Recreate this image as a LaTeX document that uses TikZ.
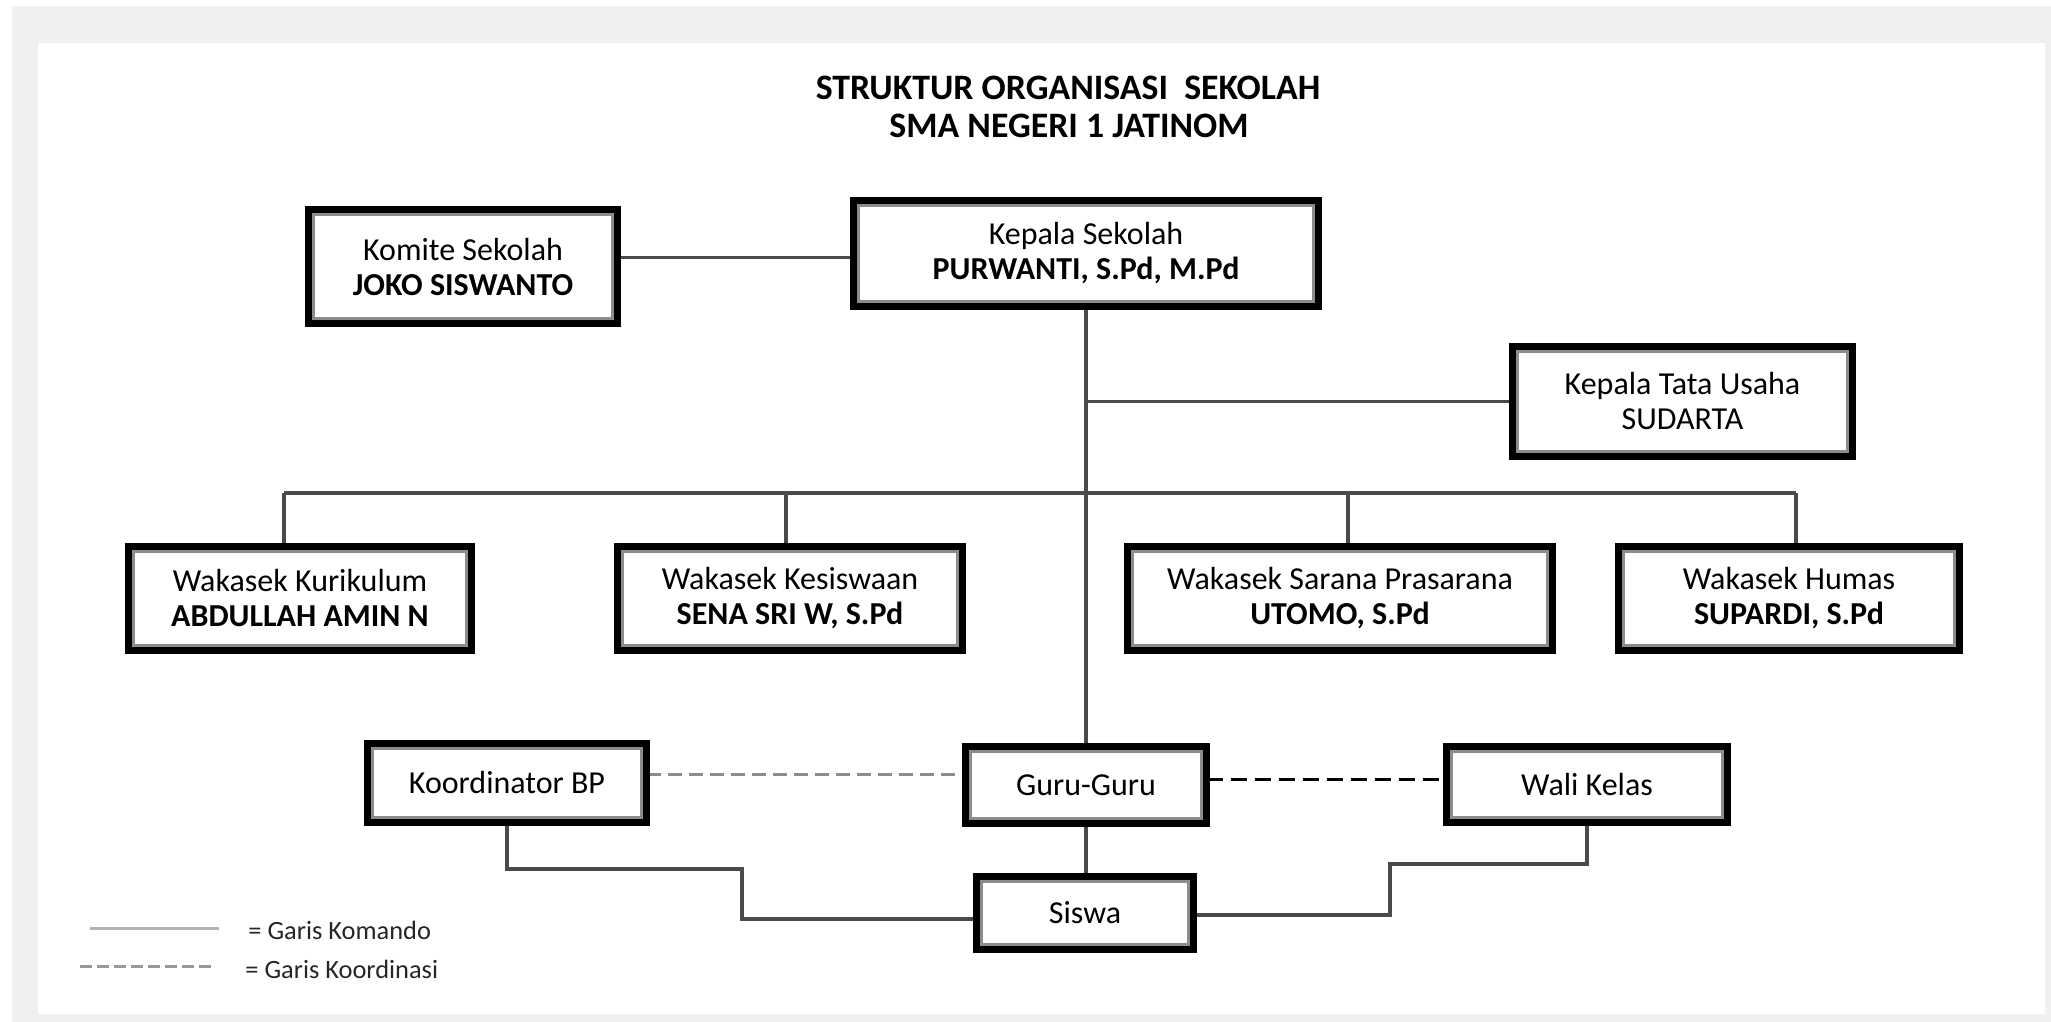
\documentclass[tikz,border=0pt]{standalone}
\usepackage{fontspec}
\setmainfont{Carlito}
\usetikzlibrary{backgrounds,calc}
\definecolor{bggray}{HTML}{F0F0F0}
\definecolor{linegray}{HTML}{4A4A4A}
\begin{document}
\begin{tikzpicture}[x=0.5pt,y=-0.5pt,
  obox/.style={draw=black, line width=3.5pt, fill=white, outer sep=0pt, inner sep=0pt, align=center, font=\fontsize{16}{17.5}\selectfont, text=black},
  innerline/.style={draw=black!45, line width=1.5pt},
  cmd/.style={draw=linegray, line width=1.6pt},
  coordgray/.style={draw=black!45, line width=1.5pt, dash pattern=on 7pt off 3.5pt},
  coordblack/.style={draw=black, line width=1.5pt, dash pattern=on 8pt off 4pt},
  legsolid/.style={draw=black!30, line width=1.5pt},
  legdash/.style={draw=black!40, line width=1.5pt, dash pattern=on 6pt off 2.5pt},
  ttl/.style={font=\fontsize{17.9}{20}\selectfont\bfseries, inner sep=0pt, anchor=base},
  leg/.style={font=\fontsize{13.2}{15}\selectfont, inner sep=0pt, anchor=base west, text=black!85},
]
\useasboundingbox (0,0) rectangle (2051,1022);
\begin{pgfonlayer}{background}
\fill[white] (0,0) rectangle (2051,1022);
\fill[bggray] (12,6) rectangle (2051,1022);
\fill[white] (38,43) rectangle (2045,1014);
\end{pgfonlayer}

% title
\node[ttl] (t1) at (1068,100) {STRUKTUR ORGANISASI\ \ SEKOLAH};
\node[ttl] (t2) at (1069,138) {SMA NEGERI 1 JATINOM};

% boxes
\node[obox, minimum width=154.5pt, minimum height=57pt] (kom) at (463,266.5) {Komite Sekolah\\\textbf{JOKO SISWANTO}};
\node[obox, minimum width=232.5pt, minimum height=53pt] (ks) at (1086,253.5) {Kepala Sekolah\\\textbf{PURWANTI, S.Pd, M.Pd}};
\node[obox, minimum width=170pt, minimum height=55pt] (ktu) at (1682.5,401.5) {Kepala Tata Usaha\\SUDARTA};
\node[obox, minimum width=171.5pt, minimum height=52pt] (wk1) at (300,598.5) {Wakasek Kurikulum\\\textbf{ABDULLAH AMIN N}};
\node[obox, minimum width=172.5pt, minimum height=52pt] (wk2) at (790,598.5) {Wakasek Kesiswaan\\\textbf{SENA SRI W, S.Pd}};
\node[obox, minimum width=212.5pt, minimum height=52pt] (wk3) at (1340,598.5) {Wakasek Sarana Prasarana\\\textbf{UTOMO, S.Pd}};
\node[obox, minimum width=170.5pt, minimum height=52pt] (wk4) at (1789,598.5) {Wakasek Humas\\\textbf{SUPARDI, S.Pd}};
\node[obox, minimum width=139.5pt, minimum height=39.5pt] (kbp) at (507,783) {Koordinator BP};
\node[obox, minimum width=120.5pt, minimum height=38.5pt] (guru) at (1086,785) {Guru-Guru};
\node[obox, minimum width=140.5pt, minimum height=38pt] (wali) at (1587,784.5) {Wali Kelas};
\node[obox, minimum width=108.5pt, minimum height=36.5pt] (siswa) at (1085,913) {Siswa};

\foreach \n in {kom,ks,ktu,wk1,wk2,wk3,wk4,kbp,guru,wali,siswa}{
  \draw[innerline] ([shift={(2.5pt,-2.5pt)}]\n.north west) rectangle ([shift={(-2.5pt,2.5pt)}]\n.south east);
}

% bus coordinates
\coordinate (b1) at (284,493);
\coordinate (b2) at (786,493);
\coordinate (b3) at (1348,493);
\coordinate (b4) at (1796,493);
\coordinate (kbpturn) at (742,869);
\coordinate (waliturn) at (1390,864);

\begin{pgfonlayer}{background}
\draw[cmd] ([yshift=-2pt]ks.west) -- ([yshift=-2pt]ks.west -| kom.east);
\draw[cmd] (ks.south) -- (guru.north);
\draw[cmd] (ktu.west) -- (ktu.west -| ks.south);
\draw[cmd] (b1) -- (b4);
\draw[cmd] (b1) -- (b1 |- wk1.north);
\draw[cmd] (b2) -- (b2 |- wk2.north);
\draw[cmd] (b3) -- (b3 |- wk3.north);
\draw[cmd] (b4) -- (b4 |- wk4.north);
\draw[cmd] (guru.south) -- (guru.south |- siswa.north);
\draw[cmd] (kbp.south) |- (kbpturn) |- ([yshift=-3pt]siswa.west);
\draw[cmd] (wali.south) |- (waliturn) |- ([yshift=-1pt]siswa.east);
\draw[coordgray] ([yshift=4.5pt]kbp.east) -- ([yshift=4.5pt]kbp.east -| guru.west);
\draw[coordblack] ([yshift=3pt]guru.east) -- ([yshift=3pt]guru.east -| wali.west);
\end{pgfonlayer}

% legend
\coordinate (la) at (90,928);
\coordinate (lb) at (219,928);
\coordinate (lc) at (80,966);
\coordinate (ld) at (212,966);
\draw[legsolid] (la) -- (lb);
\draw[legdash] (lc) -- (ld);
\node[leg] (lt1) at (248,939) {= Garis Komando};
\node[leg] (lt2) at (245,978) {= Garis Koordinasi};
\end{tikzpicture}
\end{document}
